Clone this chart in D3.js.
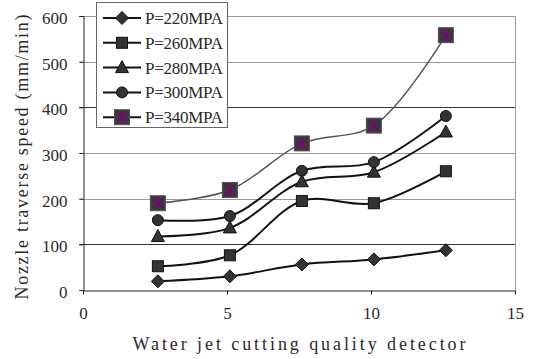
<!DOCTYPE html>
<html>
<head>
<meta charset="utf-8">
<script src="https://cdn.jsdelivr.net/npm/d3@7"></script>
<style>
  html, body { margin: 0; padding: 0; background: #fff; }
  text { font-family: "Liberation Serif", "DejaVu Serif", serif; fill: #2a2a2a; }
</style>
</head>
<body>
<div id="chart"></div>
<script>
// detector positions (x) and speeds per pressure
const detectorX = [2.6, 5.1, 7.6, 10.1, 12.6];
const p220 = [19, 30, 56, 67, 87];
const p260 = [52, 76, 195, 190, 260];
const p280 = [117, 136, 237, 258, 346];
const p300 = [153, 162, 261, 280, 381];
const p340 = [190, 219, 321, 360, 558];
const seriesNames = ['P=220MPA', 'P=260MPA', 'P=280MPA', 'P=300MPA', 'P=340MPA'];
const xTicks = [0, 5, 10, 15];
const yTicks = [0, 100, 200, 300, 400, 500, 600];

const W = 535, H = 359;
const margin = { top: 16, right: 20, bottom: 69, left: 83 };
const width = W - margin.left - margin.right;
const height = H - margin.top - margin.bottom;

const svg = d3.select('#chart').append('svg')
    .attr('width', W).attr('height', H);

const x = d3.scaleLinear().domain([0, 15]).range([margin.left, margin.left + width]);
const y = d3.scaleLinear().domain([0, 600]).range([margin.top + height, margin.top]);

// gridlines - some come out darker in the original
const darkGrid = [100, 400];
svg.append('g').selectAll('line')
    .data(yTicks.filter(d => d > 0))
    .join('line')
    .attr('x1', x(0) - 4).attr('x2', x(15))
    .attr('y1', d => Math.round(y(d)) + 0.5).attr('y2', d => Math.round(y(d)) + 0.5)
    .attr('stroke', d => darkGrid.includes(d) ? '#333' : '#999')
    .attr('stroke-width', 1);

// right border
svg.append('line')
    .attr('x1', Math.round(x(15)) + 0.5).attr('x2', Math.round(x(15)) + 0.5)
    .attr('y1', y(600)).attr('y2', y(0))
    .attr('stroke', '#999');

// axes
const yAxis = svg.append('g')
    .attr('transform', `translate(${Math.round(x(0)) + 0.5},0)`)
    .call(d3.axisLeft(y).tickValues(yTicks).tickSize(4).tickPadding(12));
const xAxis = svg.append('g')
    .attr('transform', `translate(0,${Math.round(y(0)) + 0.5})`)
    .call(d3.axisBottom(x).tickValues(xTicks).tickSize(4).tickPadding(16));
[yAxis, xAxis].forEach(a => {
    a.select('.domain').attr('stroke', '#222');
    a.selectAll('.tick line').attr('stroke', '#222');
    a.selectAll('text').attr('font-size', 17).attr('fill', '#2a2a2a')
        .attr('font-family', '"Liberation Serif", serif');
});
yAxis.selectAll('text').attr('dy', '0.45em');
xAxis.selectAll('text').attr('dy', '0.5em');
xAxis.selectAll('.tick line').attr('stroke-opacity', d => (d === 0 ? 0 : 1));

// titles
svg.append('text')
    .attr('x', x(7.5)).attr('y', 350)
    .attr('text-anchor', 'middle')
    .attr('font-size', 18)
    .attr('textLength', 333).attr('lengthAdjust', 'spacing')
    .text('Water jet cutting quality detector');
svg.append('text')
    .attr('transform', 'translate(28,157) rotate(-90)')
    .attr('text-anchor', 'middle')
    .attr('font-size', 18)
    .attr('textLength', 285).attr('lengthAdjust', 'spacing')
    .text('Nozzle traverse speed\u00a0(mm/min)');

// markers
function drawMarker(g, type, cx, cy) {
    if (type === 'diamond') {
        g.append('path')
            .attr('d', `M${cx},${cy - 6.5}L${cx + 6.5},${cy}L${cx},${cy + 6.5}L${cx - 6.5},${cy}Z`)
            .attr('fill', '#333').attr('stroke', '#111');
    } else if (type === 'square') {
        g.append('rect')
            .attr('x', cx - 5.5).attr('y', cy - 5.5).attr('width', 11).attr('height', 11)
            .attr('fill', '#333').attr('stroke', '#111');
    } else if (type === 'triangle') {
        g.append('path')
            .attr('d', `M${cx},${cy - 7}L${cx + 6.5},${cy + 5}L${cx - 6.5},${cy + 5}Z`)
            .attr('fill', '#333').attr('stroke', '#111');
    } else if (type === 'circle') {
        g.append('circle')
            .attr('cx', cx).attr('cy', cy).attr('r', 5.5)
            .attr('fill', '#333').attr('stroke', '#111');
    } else if (type === 'star') {
        g.append('rect')
            .attr('x', cx - 7.5).attr('y', cy - 7.5).attr('width', 15).attr('height', 15)
            .attr('fill', '#3a3a3a').attr('stroke', '#555');
        g.append('path')
            .attr('d', `M${cx},${cy - 6}L${cx},${cy + 6}M${cx - 5},${cy - 5}L${cx + 5},${cy + 5}M${cx + 5},${cy - 5}L${cx - 5},${cy + 5}`)
            .attr('stroke', '#800080').attr('stroke-width', 1.3);
    }
}

const series = [
    { name: seriesNames[0], values: p220, marker: 'diamond', color: '#111', w: 2 },
    { name: seriesNames[1], values: p260, marker: 'square', color: '#111', w: 2 },
    { name: seriesNames[2], values: p280, marker: 'triangle', color: '#111', w: 2 },
    { name: seriesNames[3], values: p300, marker: 'circle', color: '#111', w: 2 },
    { name: seriesNames[4], values: p340, marker: 'star', color: '#555', w: 1.5 }
];

const line = d3.line()
    .x(d => x(d[0]))
    .y(d => y(d[1]))
    .curve(d3.curveCatmullRom.alpha(0.5));

series.forEach(s => {
    const pts = detectorX.map((v, i) => [v, s.values[i]]);
    svg.append('path')
        .datum(pts)
        .attr('fill', 'none')
        .attr('stroke', s.color)
        .attr('stroke-width', s.w)
        .attr('d', line);
    const mg = svg.append('g');
    pts.forEach(p => drawMarker(mg, s.marker, x(p[0]), y(p[1])));
});

// legend
const lg = svg.append('g');
lg.append('rect')
    .attr('x', 96.5).attr('y', 2.5).attr('width', 131).attr('height', 125)
    .attr('fill', '#fff').attr('stroke', '#666');
series.forEach((s, i) => {
    const cy = 18 + i * 24.8;
    lg.append('line')
        .attr('x1', 103).attr('x2', 141).attr('y1', cy).attr('y2', cy)
        .attr('stroke', '#111').attr('stroke-width', 2);
    drawMarker(lg, s.marker, 122, cy);
    lg.append('text')
        .attr('x', 145).attr('y', cy + 6)
        .attr('font-size', 17)
        .attr('textLength', 78).attr('lengthAdjust', 'spacing')
        .text(s.name);
});
</script>
</body>
</html>
